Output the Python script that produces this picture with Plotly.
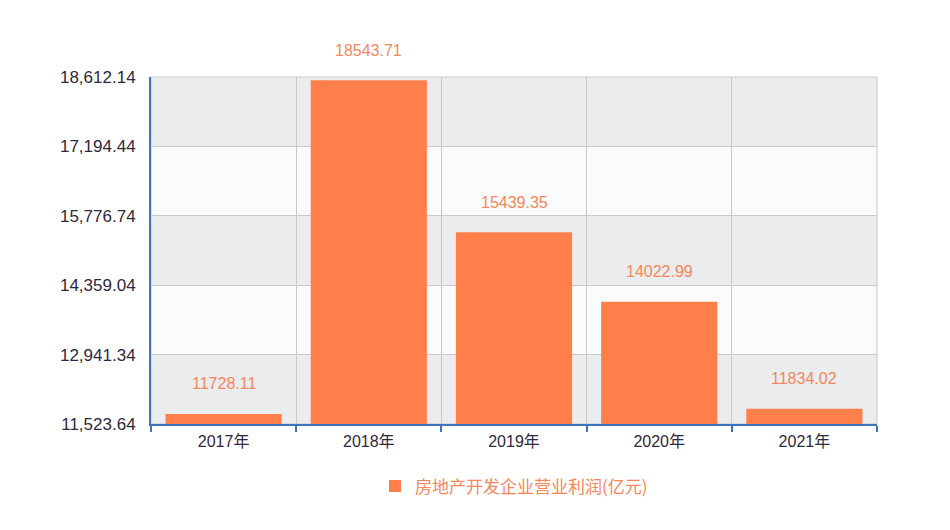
import plotly.graph_objects as go

years = ["2017年", "2018年", "2019年", "2020年", "2021年"]
profit = [11728.11, 18543.71, 15439.35, 14022.99, 11834.02]
series_name = "房地产开发企业营业利润(亿元)"
y_ticks = [11523.64, 12941.34, 14359.04, 15776.74, 17194.44, 18612.14]
y_tick_text = ["{:,.2f}".format(v) for v in y_ticks]

bar_color = "#FF7F4A"
label_color = "#F5875A"
axis_blue = "#3F74BC"

fig = go.Figure()
fig.add_trace(go.Bar(
    x=years, y=profit, name=series_name,
    marker=dict(color=bar_color, line=dict(width=0)),
    width=0.8,
    showlegend=True,
))

# value labels sit well above the bars
annotations = []
for yr, v in zip(years, profit):
    annotations.append(dict(x=yr, y=v, xref="x", yref="y", text="{:.2f}".format(v),
                            showarrow=False, yshift=30,
                            font=dict(color=label_color, size=16)))

# alternating grey bands between the y ticks (bottom one grey)
shapes = []
for i in range(0, len(y_ticks) - 1, 2):
    shapes.append(dict(type="rect", xref="paper", yref="y", x0=0, x1=1,
                       y0=y_ticks[i], y1=y_ticks[i + 1],
                       fillcolor="#EBECEE", line=dict(width=0), layer="below"))
shapes.append(dict(type="rect", xref="paper", yref="paper", x0=0, x1=1, y0=0, y1=1,
                   line=dict(color="#C8C8C8", width=1), layer="below"))

fig.update_layout(
    width=950, height=530,
    margin=dict(l=143, r=81, t=69, b=114),
    paper_bgcolor="white",
    plot_bgcolor="#FAFBFD",
    font=dict(family="Liberation Sans, Noto Sans CJK SC", color="#2E2840"),
    shapes=shapes,
    annotations=annotations,
    showlegend=True,
    legend=dict(orientation="h", x=0.5, xanchor="center", y=-0.18, yanchor="middle",
                font=dict(color=label_color, size=17, family="Noto Sans CJK SC")),
)
fig.update_xaxes(
    type="category", tickson="boundaries",
    showgrid=True, gridcolor="#C8C8C8", gridwidth=1,
    showline=True, linecolor=axis_blue, linewidth=2,
    ticks="outside", tickcolor=axis_blue, ticklen=6, tickwidth=1.5,
    ticklabelstandoff=2,
    tickfont=dict(size=16, family="Liberation Sans, Noto Sans CJK SC"),
)
fig.update_yaxes(
    range=[y_ticks[0], y_ticks[-1]],
    tickvals=y_ticks, ticktext=y_tick_text,
    showgrid=True, gridcolor="#C8C8C8", gridwidth=1,
    showline=True, linecolor=axis_blue, linewidth=2,
    ticks="", ticklabelstandoff=10,
    tickfont=dict(size=17),
    zeroline=False,
)

fig.write_html("out.html")
